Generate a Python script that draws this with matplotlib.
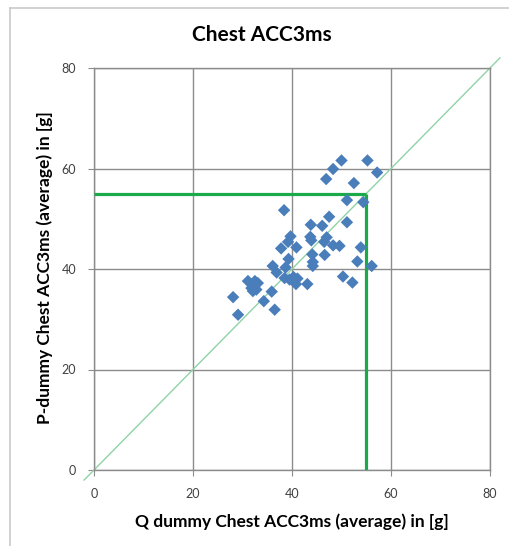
import matplotlib
matplotlib.use("Agg")
import matplotlib.pyplot as plt
from matplotlib.lines import Line2D

# Data
q_dummy = [50.0, 55.25, 48.3, 57.2, 46.9, 52.5, 51.1, 54.4, 38.4, 47.5,
           43.8, 46.1, 51.1, 39.7, 43.7, 47.0, 39.2, 43.9, 46.5, 48.3,
           49.6, 37.8, 40.9, 53.9, 44.1, 46.6, 39.3, 53.2, 44.2, 44.2,
           36.1, 38.7, 56.1, 36.9, 38.5, 39.5, 40.3, 41.1, 40.8, 43.1,
           50.3, 52.2, 31.1, 32.5, 33.1, 31.8, 32.8, 32.1, 35.9, 28.1,
           34.3, 36.5, 29.1]
p_dummy = [61.6, 61.6, 59.9, 59.2, 57.9, 57.1, 53.7, 53.3, 51.7, 50.4,
           48.8, 48.6, 49.3, 46.5, 46.4, 46.3, 45.4, 45.7, 45.4, 44.7,
           44.6, 44.1, 44.3, 44.3, 42.9, 42.8, 42.0, 41.5, 41.4, 40.6,
           40.6, 40.3, 40.6, 39.3, 38.2, 37.9, 38.4, 38.1, 37.0, 37.0,
           38.5, 37.3, 37.6, 37.6, 37.2, 36.2, 35.9, 35.6, 35.5, 34.4,
           33.6, 31.9, 30.9]
threshold = 55
ticks = [0, 20, 40, 60, 80]
diag_ends = [-2, 82]

W, H = 509, 546
fig = plt.figure(figsize=(W / 100, H / 100), dpi=100)
fig.patch.set_facecolor("white")

# outer chart frame (left and top visible)
fig.add_artist(Line2D([10 / W, 10 / W], [0, 1 - 8 / H], transform=fig.transFigure,
                      color="#c9c9c9", lw=1.2))
fig.add_artist(Line2D([10 / W, 1], [1 - 8 / H, 1 - 8 / H], transform=fig.transFigure,
                      color="#c9c9c9", lw=1.2))

ax = fig.add_axes([94 / W, 76 / H, (490 - 94) / W, (470 - 68) / H])
ax.set_xlim(0, 80)
ax.set_ylim(0, 80)
ax.set_xticks(ticks)
ax.set_yticks(ticks)
ax.grid(True, color="#8c8c8c", lw=1.0)
ax.set_axisbelow(True)
for s in ax.spines.values():
    s.set_color("#8c8c8c")
    s.set_linewidth(1.0)
ax.tick_params(axis="both", direction="out", length=4, color="#8c8c8c",
               labelsize=9, labelcolor="#404040", pad=9)
for lab in ax.get_xticklabels() + ax.get_yticklabels():
    lab.set_fontfamily("Lato")

# diagonal y = x
ax.plot(diag_ends, diag_ends, color="#8fd3a6", lw=1.0, clip_on=False, zorder=2)
# threshold lines
ax.plot([0, threshold], [threshold, threshold], color="#1aaa4a", lw=2.3, zorder=3,
        solid_capstyle="butt")
ax.plot([threshold, threshold], [0, threshold], color="#1aaa4a", lw=2.3, zorder=3,
        solid_capstyle="butt")

ax.scatter(q_dummy, p_dummy, marker="D", s=40, color="#4a7ebb", edgecolors="none",
           zorder=4)

fig.text(262 / W, 1 - 35 / H, "Chest ACC3ms", ha="center", va="center",
         fontsize=15, fontweight="bold", family="Lato")
fig.text(292 / W, 1 - 522 / H, "Q dummy Chest ACC3ms (average) in [g]", ha="center",
         va="center", fontsize=12.5, fontweight="bold", family="Lato")
fig.text(45 / W, 1 - 268 / H, "P-dummy Chest ACC3ms (average) in [g]", ha="center",
         va="center", rotation=90, fontsize=12.5, fontweight="bold", family="Lato")

fig.savefig("out.png", dpi=100)
